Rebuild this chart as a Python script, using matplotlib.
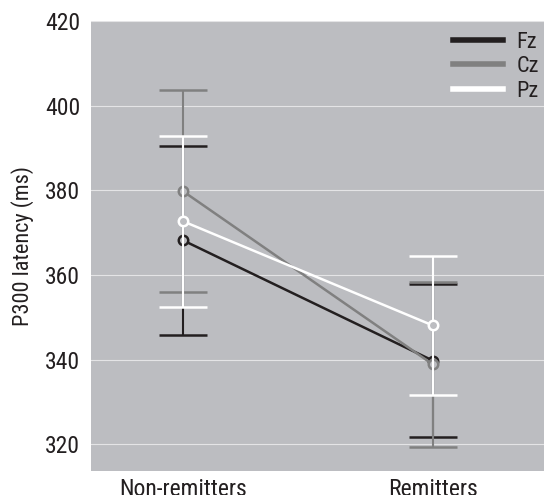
import matplotlib
matplotlib.use("Agg")
import matplotlib.pyplot as plt
from matplotlib.lines import Line2D

plt.rcParams['font.family'] = ['Roboto Condensed', 'DejaVu Sans']
plt.rcParams['font.weight'] = 'normal'

categories = ['Non-remitters', 'Remitters']
series = ['Fz', 'Cz', 'Pz']
means = {'Fz': [368.2, 339.8], 'Cz': [379.8, 338.9], 'Pz': [372.7, 348.1]}
errors = {'Fz': [22.3, 18.1], 'Cz': [23.8, 19.5], 'Pz': [20.2, 16.4]}
colors = {'Fz': '#231f20', 'Cz': '#808080', 'Pz': '#ffffff'}
yticks = [320, 340, 360, 380, 400, 420]

bg = '#bcbdc1'
fig = plt.figure(figsize=(5.44, 4.95), dpi=100)
ax = fig.add_axes([0.168, 0.049, 0.832, 0.909])
ax.set_facecolor(bg)
for s in ax.spines.values():
    s.set_visible(False)

x = list(range(len(categories)))
for i, name in enumerate(series):
    ax.errorbar(x, means[name], yerr=errors[name], color=colors[name], lw=1.8,
                elinewidth=1.5, capsize=17.5, capthick=1.6,
                marker='o', markersize=6.8, markerfacecolor=bg,
                markeredgecolor=colors[name], markeredgewidth=1.8, zorder=3 + i)

ax.set_ylim(313.8, 420)
ax.set_xlim(-0.366, 1.445)
ax.set_yticks(yticks)
ax.yaxis.grid(True, color='white', lw=0.8, alpha=0.6)
ax.set_axisbelow(True)
ax.set_xticks(x)
ax.set_xticklabels(categories)
ax.tick_params(length=0, labelsize=17, pad=8, labelcolor='#231f20')
ax.tick_params(axis='x', pad=5)
ax.set_ylabel('P300 latency (ms)', fontsize=16, labelpad=8, color='#231f20')

handles = [Line2D([], [], color=colors[n], lw=4) for n in series]
leg = ax.legend(handles, series, loc='upper right', bbox_to_anchor=(1.014, 1.0),
                frameon=False, fontsize=16, handlelength=2.25, handletextpad=0.6,
                labelspacing=0.15, borderaxespad=0.1)
for t in leg.get_texts():
    t.set_color('#231f20')

fig.savefig('out.png', dpi=100)
